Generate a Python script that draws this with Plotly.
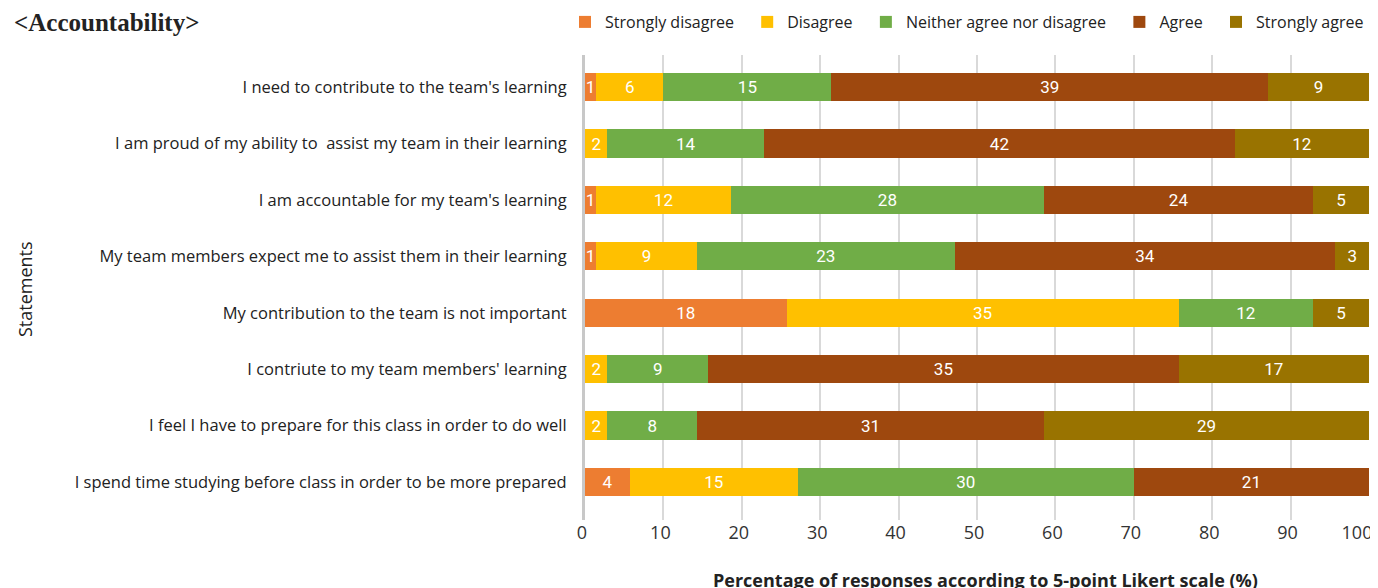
import plotly.graph_objects as go

statements = [
    "I need to contribute to the team's learning",
    "I am proud of my ability to  assist my team in their learning",
    "I am accountable for my team's learning",
    "My team members expect me to assist them in their learning",
    "My contribution to the team is not important",
    "I contriute to my team members' learning",
    "I feel I have to prepare for this class in order to do well",
    "I spend time studying before class in order to be more prepared",
]

series_names = ["Strongly disagree", "Disagree", "Neither agree nor disagree", "Agree", "Strongly agree"]
colors = ["#ED7D31", "#FFC000", "#70AD47", "#9E480E", "#997300"]

# segment sizes (counts of responses, n=70 per statement)
strongly_disagree = [1, 0, 1, 1, 18, 0, 0, 4]
disagree = [6, 2, 12, 9, 35, 2, 2, 15]
neither = [15, 14, 28, 23, 12, 9, 8, 30]
agree = [39, 42, 24, 34, 0, 42, 31, 21]
strongly_agree = [9, 12, 5, 3, 5, 17, 29, 0]

# labels as printed on the bars
strongly_disagree_labels = ["1", "", "1", "1", "18", "", "", "4"]
disagree_labels = ["6", "2", "12", "9", "35", "2", "2", "15"]
neither_labels = ["15", "14", "28", "23", "12", "9", "8", "30"]
agree_labels = ["39", "42", "24", "34", "", "35", "31", "21"]
strongly_agree_labels = ["9", "12", "5", "3", "5", "17", "29", ""]

x_ticks = [0, 10, 20, 30, 40, 50, 60, 70, 80, 90, 100]
x_tick_text = ["0", "10", "20", "30", "40", "50", "60", "70", "80", "90", "100"]

all_values = [strongly_disagree, disagree, neither, agree, strongly_agree]
all_labels = [strongly_disagree_labels, disagree_labels, neither_labels, agree_labels, strongly_agree_labels]

ypos = list(range(len(statements)))

# page body has an 8px margin: figure is placed at (8, 8) in the window
OFF = 8
W, H = 1378 - OFF, 588 - OFF
PL, PR, PT, PB = 585, 1369, 55, 520  # plot area in window pixels
PW, PH = PR - PL, PB - PT


def px(sx):
    return (sx - PL) / PW


def py(sy):
    return (PB - sy) / PH


legend_names = [n + "\u00a0\u00a0" if i < 4 else n for i, n in enumerate(series_names)]
# keep the last tick label inside the window (it is drawn left of its gridline)
tick_labels = [t if t != "100" else t + "\u2003" for t in x_tick_text]

fig = go.Figure()
for name, col, vals, labs in zip(legend_names, colors, all_values, all_labels):
    fig.add_trace(go.Bar(
        name=name, orientation="h", y=ypos, x=vals,
        marker=dict(color=col, line=dict(width=0)),
        text=labs, textposition="inside", insidetextanchor="middle",
        textangle=0, textfont=dict(color="white", size=17, family="Roboto"),
        width=0.5, hoverinfo="skip",
    ))

fig.update_layout(
    barmode="stack", barnorm="percent",
    width=W, height=H,
    margin=dict(l=PL - OFF, r=W - (PR - OFF), t=PT - OFF, b=H - (PB - OFF), autoexpand=False),
    plot_bgcolor="white", paper_bgcolor="white",
    font=dict(family="Open Sans", color="#222222"),
    uniformtext=dict(minsize=17, mode="show"),
    showlegend=True,
    legend=dict(orientation="h", x=px(565), xanchor="left", xref="paper",
                y=py(22), yanchor="middle", yref="paper",
                font=dict(size=16, family="Open Sans", color="#222222"),
                itemwidth=30, traceorder="normal", bgcolor="rgba(0,0,0,0)"),
    xaxis=dict(range=[0, 100], tickvals=x_ticks, ticktext=tick_labels, showgrid=True,
               gridcolor="#D9D9D9", gridwidth=2, zeroline=False, showline=False,
               automargin=False, ticklabeloverflow="allow", ticklabelshift=-3,
               tickfont=dict(size=18, family="Open Sans", color="#333333"),
               ticks=""),
    yaxis=dict(range=[7.675, -0.57], tickvals=ypos, ticktext=statements, showgrid=False,
               zeroline=False, showline=True, linecolor="#C8C8C8", linewidth=3,
               automargin=False,
               tickfont=dict(size=16.5, family="Open Sans", color="#222222"), ticks="",
               ticklabelstandoff=12),
)

fig.add_annotation(text="<b>&lt;Accountability&gt;</b>", xref="paper", yref="paper",
                   x=px(12), xanchor="left", y=py(23), yanchor="middle",
                   showarrow=False, font=dict(family="Liberation Serif", size=25, color="#222222"))
fig.add_annotation(text="Statements", xref="paper", yref="paper", textangle=-90,
                   x=px(25), xanchor="center", y=py(289), yanchor="middle",
                   showarrow=False, font=dict(family="Open Sans", size=18, color="#222222"))
fig.add_annotation(text="Percentage of responses according to 5-point Likert scale (%)",
                   xref="paper", yref="paper", x=px(985), xanchor="center",
                   y=py(566), yanchor="top", showarrow=False,
                   font=dict(family="Open Sans", size=18, color="#222222", weight="bold"))

fig.write_html("out.html")
